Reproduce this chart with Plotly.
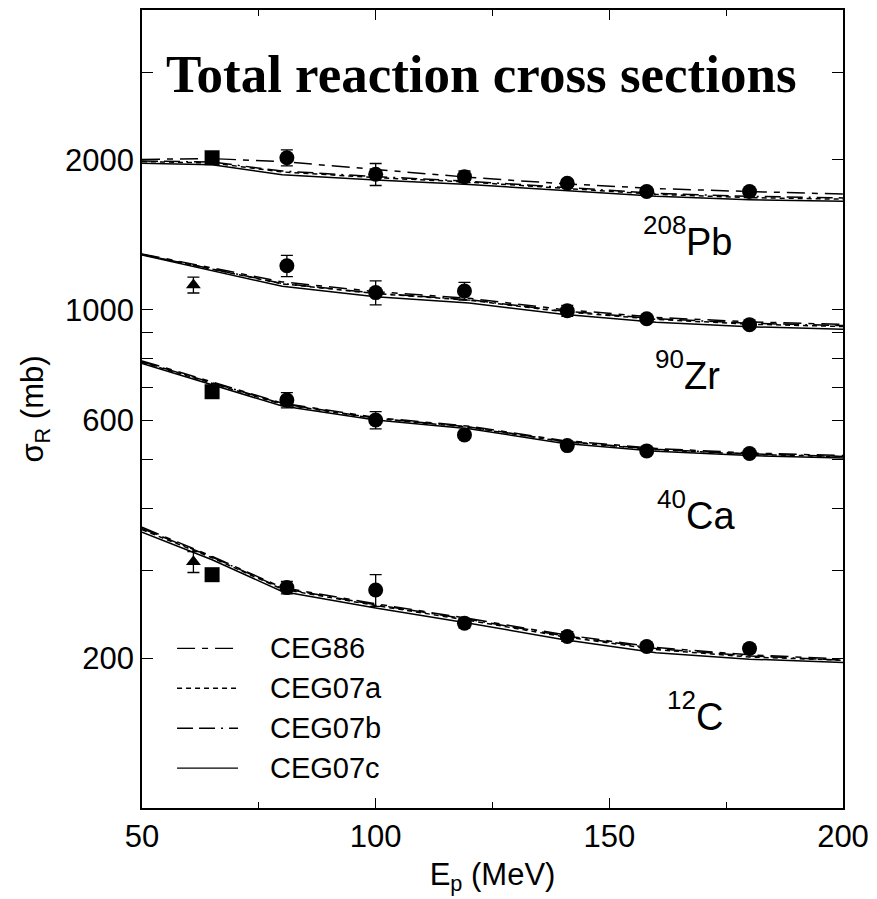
import math
import plotly.graph_objects as go

# Model energies (MeV) at which the optical-potential curves are evaluated
model_energy = [50, 65, 80, 100, 120, 140, 160, 180, 200]

# Total reaction cross sections (mb) from the four global potentials
pb_ceg86 = [2005, 2012, 1985, 1912, 1845, 1792, 1752, 1728, 1708]
pb_ceg07a = [1985, 1972, 1892, 1843, 1805, 1752, 1706, 1680, 1668]
pb_ceg07b = [1990, 1980, 1900, 1852, 1812, 1760, 1714, 1690, 1678]
pb_ceg07c = [1970, 1955, 1868, 1822, 1786, 1735, 1690, 1663, 1652]

zr_ceg86 = [1295, 1215, 1138, 1088, 1055, 1002, 966, 946, 935]
zr_ceg07a = [1292, 1208, 1128, 1078, 1046, 992, 957, 936, 926]
zr_ceg07b = [1292, 1210, 1130, 1080, 1048, 995, 960, 940, 930]
zr_ceg07c = [1289, 1200, 1115, 1063, 1032, 980, 944, 925, 914]

ca_ceg86 = [790, 716, 650, 608, 584, 547, 527, 516, 510]
ca_ceg07a = [785, 712, 646, 605, 581, 544, 524, 513, 507]
ca_ceg07b = [787, 714, 648, 606, 582, 545, 525, 514, 508]
ca_ceg07c = [781, 707, 641, 601, 577, 540, 520, 510, 504]

c_ceg86 = [366, 320, 277, 257, 240, 223, 210, 203, 199]
c_ceg07a = [362, 318, 275, 255, 238, 221, 208, 201, 198]
c_ceg07b = [364, 319, 276, 256, 239, 222, 209, 202, 198]
c_ceg07c = [358, 315, 272, 252, 235, 218, 205, 199, 196]

# Measured cross sections
circle_energy = [81, 100, 119, 141, 158, 180]
pb_circle = [2020, 1872, 1851, 1796, 1728, 1728]
pb_circle_err = [75, 95, 50, 25, 15, 15]
zr_circle = [1226, 1083, 1091, 996, 960, 934]
zr_circle_err = [60, 60, 45, 25, 10, 10]
ca_circle = [659, 601, 561, 534, 521, 515]
ca_circle_err = [23, 24, 8, 8, 5, 5]
c_circle = [277, 274, 235, 221, 211, 209]
c_circle_err = [8, 20, 5, 5, 4, 4]

square_energy = [65, 65, 65]
square_value = [2020, 685, 294]

triangle_energy = [61, 61]
triangle_value = [1122, 312]
triangle_err = [41, 15]

# Nucleus labels: mass number, element, and where they sit (energy, cross section)
mass_numbers = ["208", "90", "40", "12"]
elements = ["Pb", "Zr", "Ca", "C"]
label_energy = [166.4, 166.0, 166.4, 168.6]
label_sigma = [1369, 737, 386, 152]

# Axis ticks
x_ticks = [50, 100, 150, 200]
x_minor_ticks = [75, 125, 175]
y_ticks = [200, 600, 1000, 2000]
y_minor_ticks = [300, 400, 500, 700, 800, 900, 3000]
y_decade_ticks = [1000]

models = ["CEG86", "CEG07a", "CEG07b", "CEG07c"]
dashes = ["18px,7px,6px,7px", "5px,4px", "16px,6px,16px,6px,2px,6px", "solid"]

nuclei = [
    (pb_ceg86, pb_ceg07a, pb_ceg07b, pb_ceg07c),
    (zr_ceg86, zr_ceg07a, zr_ceg07b, zr_ceg07c),
    (ca_ceg86, ca_ceg07a, ca_ceg07b, ca_ceg07c),
    (c_ceg86, c_ceg07a, c_ceg07b, c_ceg07c),
]

y_range = [2, 3.602]

fig = go.Figure()

for curves in nuclei:
    for name, dash, vals in zip(models, dashes, curves):
        fig.add_trace(go.Scatter(
            x=model_energy, y=vals, mode="lines", name=name, showlegend=False,
            line=dict(color="black", width=1.5, dash=dash),
        ))

for vals, errs in [(pb_circle, pb_circle_err), (zr_circle, zr_circle_err),
                   (ca_circle, ca_circle_err), (c_circle, c_circle_err)]:
    fig.add_trace(go.Scatter(
        x=circle_energy, y=vals, mode="markers", showlegend=False,
        marker=dict(symbol="circle", size=15, color="black"),
        error_y=dict(type="data", array=errs, color="black", thickness=1.3, width=6),
    ))

fig.add_trace(go.Scatter(
    x=square_energy, y=square_value, mode="markers", showlegend=False,
    marker=dict(symbol="square", size=15, color="black"),
))
fig.add_trace(go.Scatter(
    x=triangle_energy, y=triangle_value, mode="markers", showlegend=False,
    marker=dict(symbol="triangle-up", size=13, color="black"),
    error_y=dict(type="data", array=triangle_err, color="black", thickness=1.3, width=6),
))

sans = "Liberation Sans, Arial, sans-serif"
label_font = dict(family=sans, size=29, color="black")
tick_font = dict(family=sans, size=31, color="black")

# Legend drawn as line samples with text beside them
legend_rows = [0.2, 0.15, 0.1, 0.05]
for name, dash, yy in zip(models, dashes, legend_rows):
    fig.add_shape(type="line", xref="paper", yref="paper", x0=0.05, x1=0.137, y0=yy, y1=yy,
                  line=dict(color="black", width=1.4, dash=dash))
    fig.add_annotation(xref="paper", yref="paper", x=0.18, y=yy, text=name, showarrow=False,
                       xanchor="left", yanchor="middle", font=label_font)

# Nucleus labels (annotation y on a log axis is given as log10 of the value);
# the mass number is a smaller, raised text to the left of the element symbol
for mass, elem, ex, val in zip(mass_numbers, elements, label_energy, label_sigma):
    fig.add_annotation(x=ex, y=math.log10(val), xref="x", yref="y", text=elem, showarrow=False,
                       xanchor="left", yanchor="middle", xshift=-2,
                       font=dict(family=sans, size=38, color="black"))
    fig.add_annotation(x=ex, y=math.log10(val), xref="x", yref="y", text=mass, showarrow=False,
                       xanchor="right", yanchor="middle", xshift=2, yshift=17,
                       font=dict(family=sans, size=26, color="black"))

fig.add_annotation(xref="paper", yref="paper", x=0.485, y=0.92,
                   text="<b>Total reaction cross sections</b>", showarrow=False,
                   xanchor="center", yanchor="middle",
                   font=dict(family="Liberation Serif, Times New Roman, serif", size=53, color="black"))

fig.update_layout(
    width=877, height=899,
    margin=dict(l=142, r=34, t=8, b=91),
    paper_bgcolor="white", plot_bgcolor="white",
    showlegend=False,
    xaxis=dict(
        range=[50, 200], tickvals=x_ticks, ticks="inside", ticklen=10, tickwidth=1.3,
        tickcolor="black", showline=True, linecolor="black", linewidth=1.5, mirror="ticks",
        showgrid=False, zeroline=False, tickfont=tick_font,
        minor=dict(tickvals=x_minor_ticks, ticks="inside", ticklen=6, tickcolor="black",
                   tickwidth=1.3, showgrid=False),
        title=dict(text="E<sub>p</sub> (MeV)", font=dict(family=sans, size=31, color="black"),
                   standoff=10),
    ),
    yaxis=dict(
        type="log", range=y_range, tickvals=y_ticks, ticktext=[str(v) for v in y_ticks],
        ticks="inside", ticklen=11, tickwidth=1.3, tickcolor="black",
        showline=True, linecolor="black", linewidth=1.5, mirror="ticks",
        showgrid=False, zeroline=False, tickfont=tick_font,
        minor=dict(tickvals=y_minor_ticks, ticks="inside", ticklen=11, tickcolor="black",
                   tickwidth=1.3, showgrid=False),
        title=dict(text="σ<sub>R</sub> (mb)", font=dict(family=sans, size=31, color="black"),
                   standoff=12),
    ),
    # companion axis carrying the longer decade tick at 1000 mb
    yaxis2=dict(
        type="log", range=y_range, overlaying="y", side="left", anchor="x",
        tickvals=y_decade_ticks, showticklabels=False, ticks="inside", ticklen=17,
        tickwidth=1.3, tickcolor="black", showline=False, mirror="ticks",
        showgrid=False, zeroline=False,
    ),
)

fig.write_html("out.html")
